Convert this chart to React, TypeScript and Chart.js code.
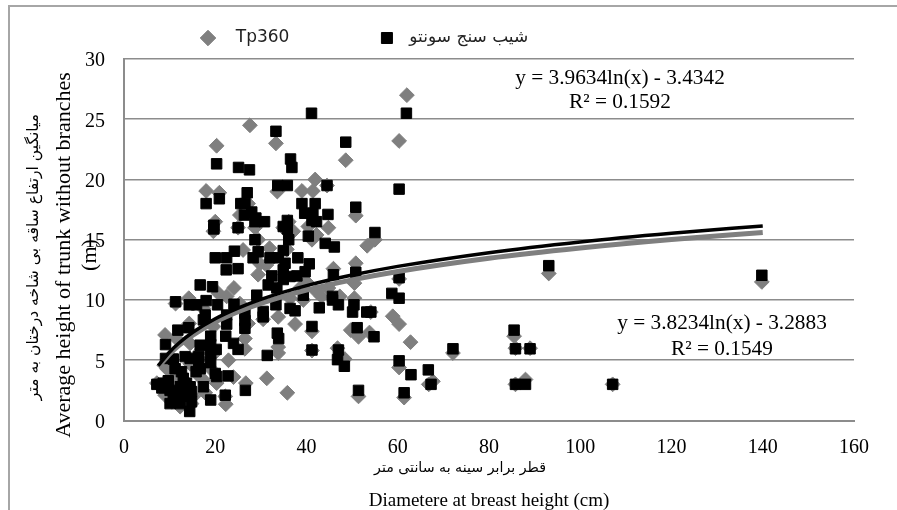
import React, { useEffect, useRef } from "react";
import { Chart, registerables } from "chart.js";

Chart.register(...registerables);

const tpName = "  Tp360";
const suuntoName = " شیب سنج سونتو";
const xTitleEn = "Diametere at breast height (cm)";
const xTitleFa = "قطر برابر سینه به سانتی متر";
const yTitleEn = "Average height of trunk without branches";
const yTitleUnit = "(m)";
const yTitleFa = "میانگین ارتفاع ساقه بی شاخه درختان به متر";
const eqSuunto = ["y = 3.9634ln(x) - 3.4342", "R² = 0.1592"];
const eqTp = ["y = 3.8234ln(x) - 3.2883", "R² = 0.1549"];

const trendX = [7.5, 10, 12, 15, 20, 25, 30, 40, 50, 60, 80, 100, 120, 140];
const trendSuunto = [4.55, 5.69, 6.41, 7.3, 8.44, 9.32, 10.05, 11.19, 12.07, 12.79, 13.93, 14.82, 15.54, 16.15];
const trendTp = [4.42, 5.52, 6.21, 7.07, 8.17, 9.02, 9.72, 10.82, 11.67, 12.37, 13.47, 14.32, 15.02, 15.61];

const suuntoPoints: number[][] = [
  [41.1,25.5],[61.9,25.5],[33.3,24],[48.6,23.1],[20.3,21.3],[25.1,21],[27.5,20.8],[36.5,21.7],[36.8,21],[33.7,19.5],
  [35.8,19.5],[44.5,19.5],[60.3,19.2],[27,18.9],[20.9,18.4],[18,18],[25.6,18],[26.5,18],[39,18],[41.9,18],
  [28,17.3],[26.4,17.05],[39.6,17.2],[41.4,17.2],[44.7,17.1],[50.8,17.7],[28.9,16.8],[30.8,16.5],[28.7,16.5],[41.2,16.6],
  [42.2,16.5],[35.8,16.6],[19.7,16.2],[19.7,15.9],[25,16],[34.9,16.1],[35.8,15.9],[55,15.6],[40.4,15.3],[36.1,15],
  [28.7,15],[44.1,14.7],[46.1,14.4],[24.2,14.05],[29.4,14],[34.9,14.1],[20,13.5],[22.5,13.5],[22.4,12.5],[25,12.6],
  [28.3,13.5],[32,13.5],[33.8,13.5],[35.3,13.05],[38.1,13.5],[40.6,13],[34.9,12.5],[39.7,12.35],[37.9,12],[36.4,11.95],
  [32.4,12],[34.9,11.7],[31.6,11.25],[33.5,11],[45.9,12.1],[50.8,12.3],[60.3,11.85],[16.7,11.25],[19.4,11.1],[11.3,9.85],
  [14.3,9.6],[15.9,9.6],[18,9.95],[20.5,9.6],[24.1,9.65],[29.1,10.4],[33.3,9.6],[39.3,10.4],[45.7,10.3],[45.7,10],
  [47,9.6],[50.4,9.6],[50.1,9],[53.2,9],[54.1,9],[58.7,10.55],[60.3,10.15],[36.4,9.3],[37.5,9.1],[42.8,9.35],
  [30.5,9.05],[30.5,8.6],[26.5,8.9],[22.5,8.75],[17.8,8.75],[17.4,8.35],[22.5,8],[26.5,8.3],[26.5,7.65],[11.8,7.5],
  [14.2,7.7],[41.2,7.8],[51.1,7.7],[54.8,6.95],[33.6,7.25],[33.9,6.8],[22.3,7],[19,7],[9.1,6.3],[16.7,6.25],
  [19,6.3],[24,6.4],[25,5.9],[19,5.6],[20.2,5.9],[41.2,5.85],[47,5.85],[46.8,5.05],[48.3,4.5],[31.4,5.4],
  [60.3,4.95],[66.7,4.2],[62.9,3.8],[67.3,3],[61.4,2.3],[51.4,2.5],[26.6,2.5],[22.8,3.7],[22.2,2.1],[19,1.7],
  [17.4,2.8],[20.3,3.65],[20,3.9],[19,4.8],[16.4,4.9],[16.7,4.3],[15.8,4.05],[14.5,5.15],[13.4,5.3],[16.4,5.3],
  [10.8,5.1],[9.1,5.15],[11.2,4.3],[7.2,3],[8.6,3.1],[8.3,2.7],[9.7,3.3],[10.1,2.5],[10.8,2.1],[10.1,1.4],
  [11.5,1.55],[12.6,4.05],[13,3.5],[13.7,3.1],[12.3,2.8],[14.5,2.8],[14.8,2.4],[12.6,2.1],[14.1,2],[12.3,1.4],
  [14.8,1.55],[14.4,0.75],[93.1,12.85],[139.8,12.05],[85.5,7.5],[85.8,5.95],[89,5.95],[72.1,5.95],[85.8,3],[88,3],[107.1,3]
];

const tpPoints: number[][] = [
  [62,27],[27.6,24.5],[20.3,22.8],[33.3,23],[60.3,23.2],[48.6,21.6],[41.9,20],[18,19.05],[20.9,18.9],[33.6,19],
  [39,19.05],[41.4,19.05],[44.5,19.5],[27.2,18],[25.4,17.05],[50.8,17],[20,16.5],[19.6,15.7],[25,16],[28.7,16],
  [36.1,16.5],[37.1,15.7],[34.9,16],[40.4,16.1],[44.8,16],[42.2,15.4],[41.2,15],[29.4,15],[55,15],[53.3,14.5],
  [31.9,14.3],[26.1,14.15],[35.7,14.2],[29.4,12.1],[45.9,12.6],[50.8,13.05],[24.1,11],[50.5,11.4],[60.3,11.75],[31.2,12.9],
  [20.7,10.55],[22.5,10.3],[14.2,10.15],[11.3,9.7],[17.4,9.3],[25.4,9.7],[47.3,10.3],[43.3,10.3],[50.5,10.15],[39.3,10],
  [36.4,10.15],[33.8,8.6],[37.5,8],[30.5,8.4],[27.2,8.05],[26.5,6.8],[58.9,8.65],[60.3,8],[62.8,6.5],[49.7,7.5],
  [51.4,6.95],[54.1,9],[53.8,7.3],[33.8,6.1],[33.8,5.6],[41.2,7.4],[41.2,5.8],[46.8,6],[48.4,5.1],[31.3,3.5],
  [35.8,2.3],[22.9,5],[26.5,5.95],[24,3.6],[26.7,3.1],[22.3,1.35],[22.2,2],[51.4,2],[61.4,1.9],[60.3,4.4],
  [66.8,3],[67.7,3.25],[72.1,5.6],[9,7.1],[11.5,6.8],[14.3,8.05],[19.6,7.8],[9.4,4.3],[14.5,6.4],[17.4,3.35],
  [17.8,2.3],[20.3,3.1],[7.2,3.1],[9,2.1],[10.5,1.55],[12.3,1.15],[14.8,1.4],[15.2,2],[10.8,3.8],[14.5,4.7],
  [16.7,3.6],[12.6,3.3],[13.7,2.4],[8,2.8],[16.4,5.6],[19,4.3],[19.6,5.5],[29.8,13],[38.6,11],[40,11.5],
  [42.2,10.7],[44.8,11],[93.1,12.2],[139.8,11.5],[85.5,7],[85.8,6],[89,6],[85.8,3],[88,3.4],[107.1,3]
];

const GREY = "#7f7f7f";
const GRID = "#8c8c8c";
const SERIF = "'Liberation Serif'";
const ARABIC = "'DejaVu Sans'";
const LEGEND_GAP = 89;

const toXY = (rows: number[][]) => rows.map(([x, y]) => ({ x, y }));

const textPlugin = {
  id: "chartTexts",
  afterLayout(chart: any) {
    const legend = chart.legend;
    legend.left = 199.5 - LEGEND_GAP;
    legend.top = 29.5 - LEGEND_GAP;
  },
  afterDraw(chart: any) {
    const { ctx } = chart;
    ctx.save();
    ctx.textAlign = "center";
    ctx.textBaseline = "middle";
    ctx.fillStyle = "#000";
    const put = (t: string, x: number, y: number, font: string) => {
      ctx.font = font;
      ctx.fillText(t, x, y);
    };
    put(eqSuunto[0], 620, 78, `21.3px ${SERIF}`);
    put(eqSuunto[1], 620, 102, `21.3px ${SERIF}`);
    put(eqTp[0], 722, 323, `21.3px ${SERIF}`);
    put(eqTp[1], 722, 349, `21.3px ${SERIF}`);
    put(xTitleFa, 460, 468, `14.2px ${ARABIC}`);
    const vertical = (t: string, x: number, y: number, font: string) => {
      ctx.save();
      ctx.translate(x, y);
      ctx.rotate(-Math.PI / 2);
      put(t, 0, 0, font);
      ctx.restore();
    };
    vertical(yTitleFa, 34, 257, `15.6px ${ARABIC}`);
    vertical(yTitleEn, 64, 255, `22px ${SERIF}`);
    vertical(yTitleUnit, 90, 255, `22px ${SERIF}`);
    ctx.restore();
  },
};

export default function App() {
  const ref = useRef<HTMLCanvasElement | null>(null);
  useEffect(() => {
    const chart = new Chart(ref.current as HTMLCanvasElement, {
      type: "scatter",
      data: {
        datasets: [
          { label: tpName, data: toXY(tpPoints), backgroundColor: GREY, borderColor: GREY, pointStyle: "rectRot", pointRadius: 7.4, order: 3 },
          { label: suuntoName, data: toXY(suuntoPoints), backgroundColor: "#000", borderColor: "#000", pointStyle: "rect", pointRadius: 7.4, order: 2 },
          { label: "trend Tp360", data: trendX.map((x, i) => ({ x, y: trendTp[i] })), showLine: true, borderColor: GREY, borderWidth: 5, pointRadius: 0, cubicInterpolationMode: "monotone", order: 1 },
          { label: "trend suunto", data: trendX.map((x, i) => ({ x, y: trendSuunto[i] })), showLine: true, borderColor: "#000", borderWidth: 3.5, pointRadius: 0, cubicInterpolationMode: "monotone", order: 0 },
        ],
      } as any,
      options: {
        responsive: false,
        animation: false,
        layout: { padding: { right: 43 } },
        plugins: {
          tooltip: { enabled: false },
          legend: {
            display: true,
            position: "top",
            align: "start",
            maxHeight: 59,
            labels: {
              usePointStyle: true,
              boxHeight: 11,
              padding: LEGEND_GAP,
              color: "#222",
              font: { family: ARABIC, size: 17 },
              filter: (item: any) => item.datasetIndex < 2,
              sort: (a: any, b: any) => a.datasetIndex - b.datasetIndex,
            },
          },
        },
        scales: {
          x: {
            type: "linear",
            min: 0,
            max: 160,
            afterFit: (s: any) => { s.height = 89.5; },
            grid: { display: false, drawTicks: false },
            border: { display: true, color: GRID, width: 2 },
            ticks: { stepSize: 20, padding: 15, maxRotation: 0, color: "#000", font: { family: SERIF, size: 20 } },
            title: { display: true, text: xTitleEn, color: "#000", font: { family: SERIF, size: 19 }, padding: { top: 0, bottom: -2 } },
          },
          y: {
            type: "linear",
            min: 0,
            max: 30,
            afterFit: (s: any) => { s.width = 124; },
            grid: { color: GRID, lineWidth: 1.6, drawTicks: false },
            border: { display: true, color: GRID, width: 2 },
            ticks: { stepSize: 5, padding: 19, labelOffset: 2, color: "#000", font: { family: SERIF, size: 20 } },
          },
        },
      } as any,
      plugins: [textPlugin as any],
    });
    return () => chart.destroy();
  }, []);
  return (
    <div style={{ position: "fixed", left: 0, top: 0, width: 897, height: 510, overflow: "hidden", background: "#fff" }}>
      <canvas ref={ref} width={897} height={510} style={{ display: "block", position: "absolute", left: 0, top: 0 }} />
      <div style={{ position: "absolute", left: 8, top: 5, width: 900, height: 520, borderLeft: "2px solid #a6a6a6", borderTop: "2px solid #a6a6a6", pointerEvents: "none" }} />
    </div>
  );
}
